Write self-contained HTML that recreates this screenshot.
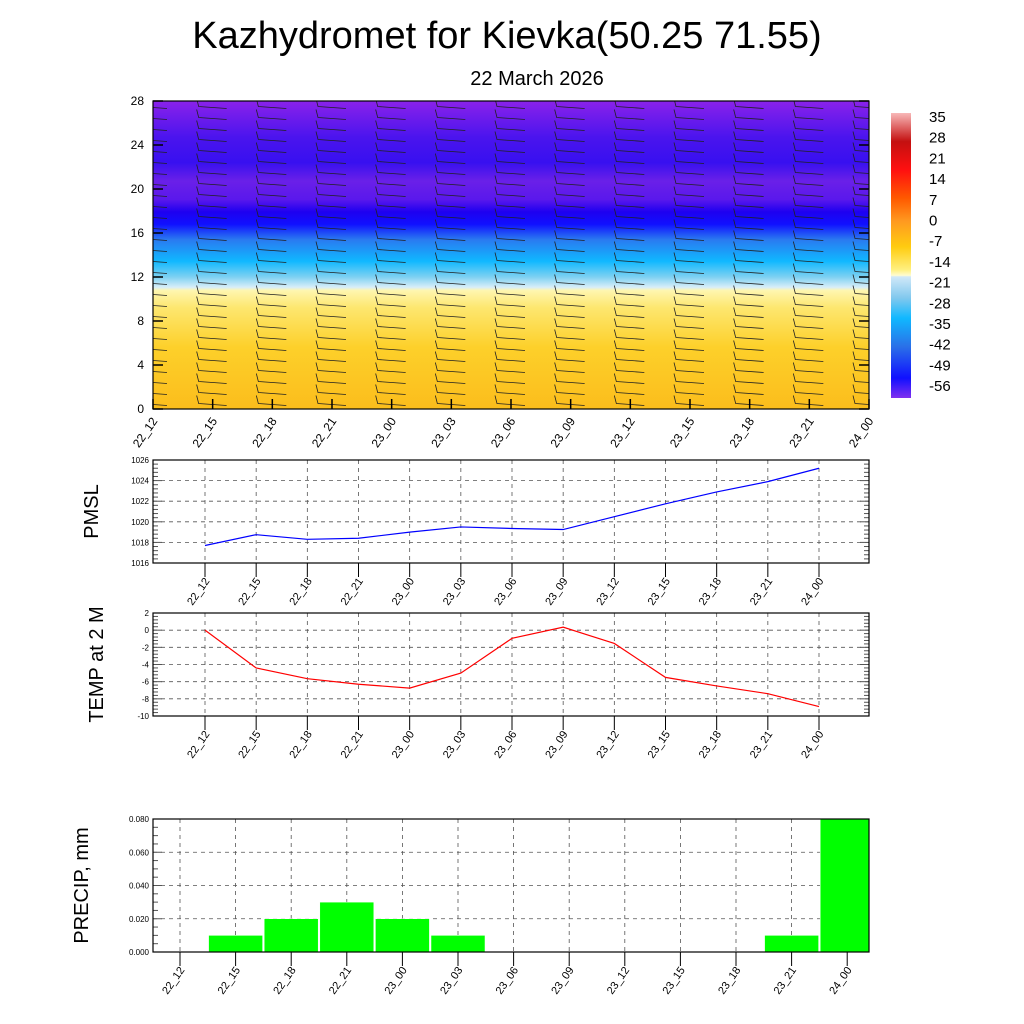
<!DOCTYPE html>
<html><head><meta charset="utf-8"><style>
body{margin:0;background:#fff}
svg{display:block;font-family:"Liberation Sans",sans-serif}
</style></head><body>
<svg id="c" width="1024" height="1024" viewBox="0 0 1024 1024">
<defs>
<clipPath id="topclip"><rect x="153" y="101" width="716" height="308"/></clipPath>
<clipPath id="prclip"><rect x="153" y="810" width="716" height="142"/></clipPath>
<linearGradient id="tg" x1="0" y1="1" x2="0" y2="0">
<stop offset="0" stop-color="#fbbd1c"/><stop offset="0.2" stop-color="#fdd02a"/>
<stop offset="0.33" stop-color="#fde770"/><stop offset="0.385" stop-color="#fef6b0"/>
<stop offset="0.395" stop-color="#d8eef8"/><stop offset="0.43" stop-color="#7ad0f2"/>
<stop offset="0.48" stop-color="#10b8ff"/><stop offset="0.55" stop-color="#2a7af0"/>
<stop offset="0.6" stop-color="#1010ff"/><stop offset="0.64" stop-color="#1e00f0"/>
<stop offset="0.68" stop-color="#5a18ec"/><stop offset="0.74" stop-color="#6a20e8"/>
<stop offset="0.8" stop-color="#3810f0"/><stop offset="0.88" stop-color="#4a14ee"/>
<stop offset="1" stop-color="#8a22ea"/>
</linearGradient>
<linearGradient id="cbg" x1="0" y1="0" x2="0" y2="1">
<stop offset="0" stop-color="#f8b8b8"/><stop offset="0.1" stop-color="#c41010"/>
<stop offset="0.2" stop-color="#ff1010"/><stop offset="0.3" stop-color="#ff5a00"/>
<stop offset="0.38" stop-color="#ff9a20"/><stop offset="0.47" stop-color="#ffcc10"/>
<stop offset="0.55" stop-color="#fff080"/><stop offset="0.57" stop-color="#fffcd0"/>
<stop offset="0.575" stop-color="#d0e8f8"/><stop offset="0.65" stop-color="#80c8ee"/>
<stop offset="0.72" stop-color="#10b8ff"/><stop offset="0.82" stop-color="#2a70e8"/>
<stop offset="0.93" stop-color="#1010ff"/><stop offset="1" stop-color="#8030f0"/>
</linearGradient>
</defs>
<text x="507" y="48" font-size="38" text-anchor="middle">Kazhydromet for Kievka(50.25 71.55)</text>
<text x="537" y="85" font-size="20" text-anchor="middle">22 March 2026</text>
<rect x="153" y="101" width="716" height="308" fill="url(#tg)"/>
<g id="barbs" clip-path="url(#topclip)"></g>
<rect x="153" y="101" width="716" height="308" fill="none" stroke="#000" stroke-width="1.2"/>
<rect x="891" y="113" width="20" height="285" fill="url(#cbg)"/>
<g id="topg"></g><g id="pm"></g><g id="tp"></g><g id="pr"></g>
</svg>
<script>
const cats=["22_12","22_15","22_18","22_21","23_00","23_03","23_06","23_09","23_12","23_15","23_18","23_21","24_00"];
const heightTicks=[0,4,8,12,16,20,24,28];
const cbLabels=[35,28,21,14,7,0,-7,-14,-21,-28,-35,-42,-49,-56];
const pmsl=[1017.7,1018.75,1018.3,1018.4,1019.0,1019.5,1019.35,1019.25,1020.5,1021.75,1022.9,1023.9,1025.2];
const pmslTicks=[1016,1018,1020,1022,1024,1026];
const temp=[0.0,-4.4,-5.65,-6.3,-6.75,-5.0,-0.95,0.35,-1.55,-5.5,-6.5,-7.4,-8.9];
const tempTicks=[2,0,-2,-4,-6,-8,-10];
const precip=[0,0.01,0.02,0.03,0.02,0.01,0,0,0,0,0,0.01,0.08];
const precipTicks=[0,0.02,0.04,0.06,0.08];
const NS="http://www.w3.org/2000/svg";
function mk(p,t,a,txt){const e=document.createElementNS(NS,t);for(const k in a)e.setAttribute(k,a[k]);if(txt!==undefined)e.textContent=txt;p.appendChild(e);return e;}
const topG=document.getElementById('topg'),barbG=document.getElementById('barbs');
const tx=i=>153+i*716/12, ty=v=>409-v*308/28;
for(let i=0;i<cats.length;i++){
  const x=tx(i);
  for(let h=0.5;h<28;h+=1){
    const y=ty(h);
    const b=mk(barbG,'path',{d:`M${x-16} ${y-8}L${x-14} ${y}L${x+14} ${y+2}`,stroke:'#222','stroke-width':0.8,fill:'none'});
    
    
  }
  const t=mk(topG,'line',{x1:x,y1:409,x2:x,y2:399,stroke:'#000','stroke-width':1.5});
  
  
  const l=mk(topG,'text',{transform:`translate(${x+5},${421}) rotate(-55)`,'font-size':12,'text-anchor':'end'},cats[i]);
  
  
}
heightTicks.forEach(v=>{const y=ty(v);
  mk(topG,'line',{x1:153,y1:y,x2:163,y2:y,stroke:'#000','stroke-width':1.5});
  mk(topG,'line',{x1:859,y1:y,x2:869,y2:y,stroke:'#000','stroke-width':1.5});
  const l=mk(topG,'text',{x:144,y:y+4,'font-size':12,'text-anchor':'end'},v);
  
  });
cbLabels.forEach((v,i)=>{const l=mk(topG,'text',{x:929,y:122+i*20.7,'font-size':15},v);
  
  });
function panel(gid,y0,y1,ticks,vals,color,title,tickfmt){
  const g=document.getElementById(gid);
  const lo=Math.min(...ticks),hi=Math.max(...ticks);
  const px=i=>205+i*614/12, py=v=>y1-(v-lo)/(hi-lo)*(y1-y0);
  const steps=(ticks.length-1)*5;
  for(let k=0;k<=steps;k++){const y=y0+k*(y1-y0)/steps,len=k%5?5:9;
    mk(g,'line',{x1:153,y1:y,x2:153+len,y2:y,stroke:'#555','stroke-width':1});
    mk(g,'line',{x1:869,y1:y,x2:869-len,y2:y,stroke:'#555','stroke-width':1});}
  ticks.forEach(v=>{const y=py(v);
    if(v!==lo&&v!==hi)mk(g,'line',{x1:153,y1:y,x2:869,y2:y,stroke:'#555','stroke-dasharray':'4 4','stroke-width':0.8});
    const l=mk(g,'text',{x:149,y:y+3,'font-size':8,'text-anchor':'end'},tickfmt(v));
    
    });
  cats.forEach((c,i)=>{const x=px(i);
    mk(g,'line',{x1:x,y1:y0,x2:x,y2:y1,stroke:'#555','stroke-dasharray':'4 4','stroke-width':0.8});
    mk(g,'line',{x1:x,y1:y1,x2:x,y2:y1+14,stroke:'#000','stroke-width':1});
    const l=mk(g,'text',{transform:`translate(${x+5},${y1+18}) rotate(-55)`,'font-size':11,'text-anchor':'end'},c);
    
    });
  const f=mk(g,'rect',{x:153,y:y0,width:716,height:y1-y0,fill:'none',stroke:'#000','stroke-width':1.2});
  
  
  const ln=mk(g,'polyline',{points:vals.map((v,i)=>px(i)+','+py(v)).join(' '),fill:'none',stroke:color,'stroke-width':1.2});
  
  
  const t=mk(g,'text',{transform:`translate(${title[1]},${(y0+y1)/2}) rotate(-90)`,'font-size':20,'text-anchor':'middle'},title[0]);
  
  
}
panel('pm',460,563,pmslTicks,pmsl,'#0000ff',['PMSL',98],v=>v);
panel('tp',613,716,tempTicks,temp,'#ff0000',['TEMP at 2 M',103],v=>v);
(function(){
  const g=document.getElementById('pr'),y0=819,y1=952;
  const px=i=>180+i*55.6, py=v=>y1-v/0.08*(y1-y0);
  for(let k=0;k<=16;k++){const y=y0+k*(y1-y0)/16,len=k%4?5:9;
    mk(g,'line',{x1:153,y1:y,x2:153+len,y2:y,stroke:'#555'});
    mk(g,'line',{x1:869,y1:y,x2:869-len,y2:y,stroke:'#555'});}
  cats.forEach((c,i)=>{const x=px(i);
    mk(g,'line',{x1:x,y1:y0,x2:x,y2:y1,stroke:'#555','stroke-dasharray':'4 4','stroke-width':0.8});});
  precipTicks.forEach(v=>{const y=py(v);
    if(v>0&&v<0.08)mk(g,'line',{x1:153,y1:y,x2:869,y2:y,stroke:'#555','stroke-dasharray':'4 4','stroke-width':0.8});
    const l=mk(g,'text',{x:149,y:y+3,'font-size':8,'text-anchor':'end'},v.toFixed(3));
    
    });
  const bars=mk(g,'g',{'clip-path':'url(#prclip)'});
  precip.forEach((v,i)=>{if(v<=0)return;const x=px(i);
    const r=mk(bars,'rect',{x:x-27,y:py(v),width:54,height:y1-py(v),fill:'#00ff00',stroke:'#fff','stroke-width':0.5});
    
    });
  cats.forEach((c,i)=>{const x=px(i);
    mk(g,'line',{x1:x,y1:y1,x2:x,y2:y1+14,stroke:'#000'});
    const l=mk(g,'text',{transform:`translate(${x+5},${y1+18}) rotate(-55)`,'font-size':11,'text-anchor':'end'},c);
    
    });
  const f=mk(g,'rect',{x:153,y:y0,width:716,height:y1-y0,fill:'none',stroke:'#000','stroke-width':1.2});
  
  
  const t=mk(g,'text',{transform:`translate(88,${(y0+y1)/2}) rotate(-90)`,'font-size':20,'text-anchor':'middle'},'PRECIP, mm');
  
  
})();
</script>
</body></html>
